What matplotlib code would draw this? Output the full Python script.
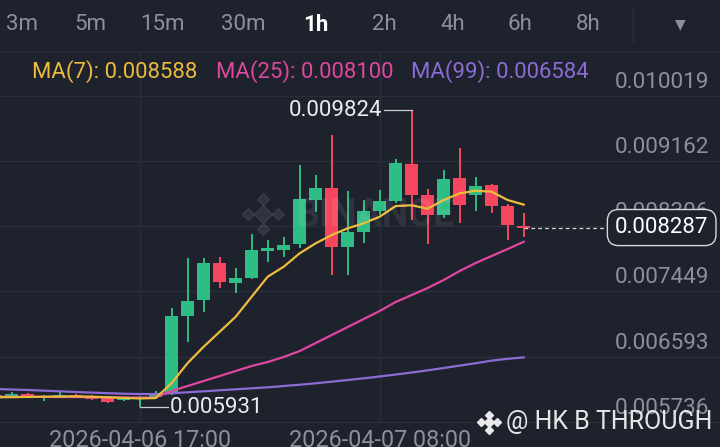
import matplotlib
matplotlib.use("Agg")
import matplotlib.pyplot as plt
import matplotlib.transforms as mtransforms
import numpy as np

plt.rcParams['font.family'] = ['Roboto', 'DejaVu Sans']

#%% Data #####################################################################

tabs = ["3m", "5m", "15m", "30m", "1h", "2h", "4h", "6h", "8h"]
active_tab = "1h"

# hourly candles, index 9 = 2026-04-06 17:00
opens = [0.006064, 0.006064, 0.006103, 0.006064, 0.006077, 0.006090, 0.006077,
         0.006051, 0.006025, 0.006038, 0.006064, 0.006116, 0.007130, 0.007336,
         0.007826, 0.007563, 0.007621, 0.007983, 0.007992, 0.008067, 0.008648,
         0.008802, 0.008036, 0.008224, 0.008504, 0.008639, 0.009116, 0.008714,
         0.008451, 0.008941, 0.008714, 0.008845, 0.008569, 0.008307]
closes = [0.006090, 0.006103, 0.006064, 0.006077, 0.006090, 0.006064, 0.006038,
          0.005998, 0.006038, 0.006051, 0.006103, 0.007126, 0.007327, 0.007826,
          0.007569, 0.007621, 0.007992, 0.008022, 0.008058, 0.008657, 0.008802,
          0.008036, 0.008228, 0.008504, 0.008639, 0.009130, 0.008714, 0.008451,
          0.008924, 0.008583, 0.008832, 0.008569, 0.008320, 0.008287]
highs = [0.006116, 0.006129, 0.006116, 0.006090, 0.006129, 0.006103, 0.006090,
         0.006064, 0.006064, 0.006077, 0.006142, 0.007231, 0.007883, 0.007883,
         0.007896, 0.007752, 0.008202, 0.008123, 0.008159, 0.009107, 0.008976,
         0.009501, 0.008770, 0.008648, 0.008779, 0.009182, 0.009824, 0.008789,
         0.009042, 0.009326, 0.008954, 0.008858, 0.008596, 0.008474]
lows = [0.006038, 0.006051, 0.006051, 0.006012, 0.006064, 0.006051, 0.006025,
        0.005985, 0.006012, 0.005931, 0.006038, 0.006090, 0.006781, 0.007183,
        0.007498, 0.007432, 0.007612, 0.007839, 0.007896, 0.008015, 0.008495,
        0.007664, 0.007664, 0.008080, 0.008451, 0.008613, 0.008386, 0.008071,
        0.008408, 0.008350, 0.008508, 0.008482, 0.008123, 0.008159]

ma7 = [0.006060, 0.006062, 0.006065, 0.006068, 0.006070, 0.006072, 0.006068,
       0.006060, 0.006052, 0.006045, 0.006050, 0.006247, 0.006510, 0.006724,
       0.006920, 0.007117, 0.007380, 0.007642, 0.007773, 0.007949, 0.008080,
       0.008189, 0.008277, 0.008343, 0.008429, 0.008569, 0.008579, 0.008534,
       0.008648, 0.008736, 0.008770, 0.008757, 0.008648, 0.008588]
ma25 = [0.006068, 0.006067, 0.006066, 0.006065, 0.006064, 0.006063, 0.006062,
        0.006060, 0.006058, 0.006056, 0.006058, 0.006143, 0.006208, 0.006274,
        0.006339, 0.006405, 0.006471, 0.006523, 0.006589, 0.006667, 0.006772,
        0.006877, 0.006982, 0.007087, 0.007192, 0.007310, 0.007402, 0.007494,
        0.007599, 0.007717, 0.007822, 0.007914, 0.008005, 0.008100]
ma99 = [0.006169, 0.006162, 0.006156, 0.006147, 0.006139, 0.006129, 0.006122,
        0.006114, 0.006107, 0.006103, 0.006103, 0.006113, 0.006126, 0.006139,
        0.006152, 0.006165, 0.006178, 0.006191, 0.006208, 0.006225, 0.006244,
        0.006265, 0.006287, 0.006309, 0.006333, 0.006359, 0.006385, 0.006414,
        0.006444, 0.006476, 0.006507, 0.006541, 0.006565, 0.006584]

price_ticks = [0.010019, 0.009162, 0.008306, 0.007449, 0.006593, 0.005736]
time_ticks = [9, 24]
time_labels = ["2026-04-06 17:00", "2026-04-07 08:00"]

#%% Style ####################################################################

BG = '#1e222d'
GRID = '#2a2e39'
AXTXT = '#8b919b'
UP = '#2ebd85'
DOWN = '#f6465d'
C7, C25, C99 = '#ecbc3c', '#e0479e', '#8c6cd4'
W, H = 720, 447


def fx(px):
    return px / W


def fy(py):
    return 1 - py / H


fig = plt.figure(figsize=(7.2, 4.47), dpi=100, facecolor=BG)

# tab bar
for s, xp in zip(tabs, [22, 90, 162, 243, 316, 384, 453, 520, 588]):
    act = s == active_tab
    fig.text(fx(xp), fy(25), s, ha='center', va='center', fontsize=16,
             color='#ffffff' if act else AXTXT,
             fontweight='bold' if act else 'normal')
fig.text(fx(680), fy(24), '\u25bc', ha='center', va='center', fontsize=10,
         color=AXTXT, family='DejaVu Sans')
fig.add_artist(plt.Line2D([fx(633), fx(633)], [fy(8), fy(42)], color=GRID, lw=1))

ax = fig.add_axes([0, 0, 1, fy(52)])
ax.set_facecolor(BG)
for sp in ax.spines.values():
    sp.set_visible(False)
ax.set_xticks([])
ax.set_yticks([])
ax.set_xlim(0.269, 45.27)
ax.set_ylim(0.005408, 0.010590)
fig.add_artist(plt.Line2D([0, 1], [fy(52), fy(52)], color=GRID, lw=1.2))

ytrans = mtransforms.blended_transform_factory(ax.transAxes, ax.transData)
xtrans = mtransforms.blended_transform_factory(ax.transData, ax.transAxes)
lab_off = mtransforms.offset_copy(ytrans, fig=fig, x=0, y=3, units='dots')

# grid
for v in price_ticks:
    ax.axhline(v, color=GRID, lw=1, zorder=0)
    ax.text(0.985, v, f"{v:.6f}", transform=lab_off, ha='right', va='bottom',
            fontsize=16.2, color=AXTXT, zorder=1)
ax.vlines(time_ticks, price_ticks[-1], 0.010590, color=GRID, lw=1, zorder=0)
for t, s in zip(time_ticks, time_labels):
    ax.text(t, 0.0, s, transform=xtrans, ha='center', va='baseline',
            fontsize=16.8, color=AXTXT)

# watermark
for dx, dy in [(0, 0), (-15, 0), (15, 0), (0, -15), (0, 15)]:
    fig.add_artist(plt.Line2D([fx(263 + dx)], [fy(214 + dy)], marker='D',
                              ms=6.5 if (dx or dy) else 9, color='#ffffff',
                              alpha=0.08, lw=0))
fig.text(fx(296), fy(216), 'BINANCE', ha='left', va='center', fontsize=27,
         fontweight='bold', color='#ffffff', alpha=0.08)

# candles
x = np.arange(len(opens))
o, c, h, l = map(np.array, (opens, closes, highs, lows))
col = np.where(c >= o, UP, DOWN)
ax.vlines(x, l, h, color=col, lw=1.4, zorder=3)
ax.bar(x, np.maximum(np.abs(c - o), 0.000014), bottom=np.minimum(o, c),
       width=0.84, color=col, zorder=3)

# moving averages
ax.plot(x, ma99, color=C99, lw=1.6, zorder=4)
ax.plot(x, ma25, color=C25, lw=1.6, zorder=4)
ax.plot(x, ma7, color=C7, lw=1.6, zorder=4)

fig.text(fx(32), fy(72), f"MA(7): {ma7[-1]:.6f}", ha='left', va='center',
         fontsize=15.9, color=C7)
fig.text(fx(216), fy(72), f"MA(25): {ma25[-1]:.6f}", ha='left', va='center',
         fontsize=15.9, color=C25)
fig.text(fx(411), fy(72), f"MA(99): {ma99[-1]:.6f}", ha='left', va='center',
         fontsize=15.9, color=C99)

# high / low markers
ih, il = int(np.argmax(h)), int(np.argmin(l))
ax.plot([ih, 24.27], [h[ih], h[ih]], color='#c9ccd2', lw=0.9, zorder=5)
ax.text(24.13, h[ih], f"{h[ih]:.6f}", ha='right', va='center', fontsize=16,
        color='#eaecef', zorder=5)
ax.plot([il, 10.77], [l[il], l[il]], color='#c9ccd2', lw=0.9, zorder=5)
ax.text(10.9, l[il], f"{l[il]:.6f}", ha='left', va='center', fontsize=16,
        color='#eaecef', zorder=5)

# last price
last = closes[-1]
ax.hlines(last, x[-1], 38.1, color='#d5d8dc', lw=0.9, linestyles=(0, (3, 2.5)),
          zorder=5)
ax.text(0.919, last, f"{last:.6f}", transform=ytrans, ha='center', va='center',
        fontsize=16, color='#ffffff', zorder=7,
        bbox=dict(boxstyle='round,pad=0.34,rounding_size=0.5', fc=BG,
                  ec='#d5d8dc', lw=1))

# author watermark
for dx, dy in [(0, 0), (-7.5, 0), (7.5, 0), (0, -7.5), (0, 7.5)]:
    fig.add_artist(plt.Line2D([fx(489 + dx)], [fy(422 + dy)], marker='D',
                              ms=3.8 if (dx or dy) else 5, color='#e8e8e8',
                              lw=0, zorder=8))
fig.text(fx(506), fy(422), '@ HK B THROUGH', ha='left', va='center',
         fontsize=18, color='#e6e6e6', zorder=8)

fig.savefig('out.png', dpi=100, facecolor=BG)
